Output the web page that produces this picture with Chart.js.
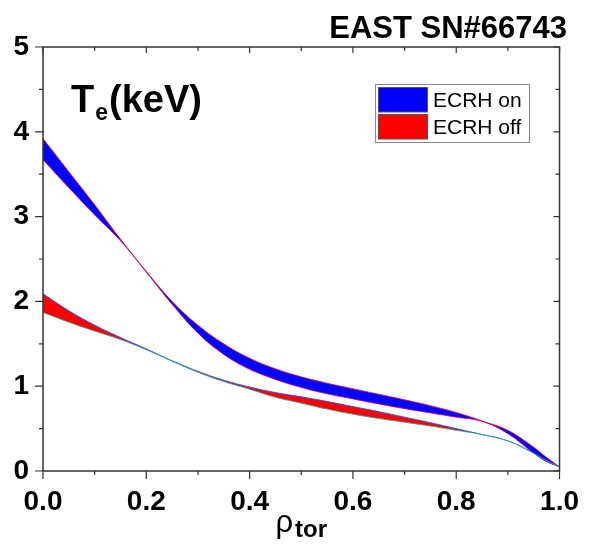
<!DOCTYPE html>
<html>
<head>
<meta charset="utf-8">
<title>Te profile</title>
<script src="https://cdn.jsdelivr.net/npm/chart.js@4.4.0/dist/chart.umd.min.js"></script>
<style>
  html, body { margin: 0; padding: 0; background: #fff; }
</style>
</head>
<body>
<canvas id="teChart" width="593" height="548"></canvas>
<script>
// radial coordinate and the upper / lower edges of each Te band (keV)
const rho    = [0, 0.05, 0.1, 0.15, 0.2, 0.25, 0.3, 0.35, 0.4, 0.45, 0.5, 0.55, 0.6, 0.65, 0.7, 0.75, 0.8, 0.85, 0.9, 0.95, 0.975, 1.0];
const onHi   = [3.92, 3.53, 3.14, 2.735, 2.355, 2.00, 1.72, 1.50, 1.33, 1.205, 1.11, 1.035, 0.97, 0.905, 0.84, 0.77, 0.69, 0.59, 0.48, 0.28, 0.16, 0.05];
const onLo   = [3.67, 3.34, 3.02, 2.715, 2.345, 1.965, 1.625, 1.375, 1.20, 1.08, 0.985, 0.91, 0.85, 0.79, 0.735, 0.685, 0.635, 0.585, 0.44, 0.21, 0.11, 0.05];
const offHi  = [2.09, 1.89, 1.72, 1.575, 1.44, 1.30, 1.175, 1.07, 0.99, 0.925, 0.875, 0.82, 0.76, 0.70, 0.635, 0.57, 0.50, 0.43, 0.355, 0.21, 0.12, 0.05];
const offLo  = [1.87, 1.755, 1.65, 1.55, 1.43, 1.295, 1.165, 1.055, 0.965, 0.87, 0.80, 0.73, 0.67, 0.62, 0.575, 0.53, 0.48, 0.43, 0.355, 0.21, 0.12, 0.05];

const legendLabels = ["ECRH on", "ECRH off"];
const xTickValues = [0, 0.2, 0.4, 0.6, 0.8, 1.0];
const yTickValues = [0, 1, 2, 3, 4, 5];

const FONT = '"Liberation Sans", Arial, sans-serif';

function pts(ys) {
  return rho.map((r, i) => ({ x: r, y: ys[i] }));
}

// frame, inner/outer ticks, labels and legend box
const decorations = {
  id: "decorations",
  afterDraw(chart) {
    const ctx = chart.ctx;
    const a = chart.chartArea;
    const x = chart.scales.x;
    const y = chart.scales.y;
    ctx.save();

    ctx.strokeStyle = "#333";
    ctx.lineWidth = 1.5;
    ctx.strokeRect(a.left, a.top, a.right - a.left, a.bottom - a.top);

    ctx.lineWidth = 1.2;
    ctx.beginPath();
    for (let i = 0; i <= 10; i++) {
      const px = x.getPixelForValue(i / 10);
      const major = i % 2 === 0;
      ctx.moveTo(px, a.bottom);
      ctx.lineTo(px, a.bottom + (major ? 8 : 4));
      ctx.moveTo(px, a.top);
      ctx.lineTo(px, a.top + (major ? 6 : 4));
    }
    for (let i = 0; i <= 10; i++) {
      const py = y.getPixelForValue(i / 2);
      const major = i % 2 === 0;
      ctx.moveTo(a.left, py);
      ctx.lineTo(a.left - (major ? 8 : 4), py);
      ctx.moveTo(a.right, py);
      ctx.lineTo(a.right - (major ? 6 : 4), py);
    }
    ctx.stroke();

    ctx.fillStyle = "#000";
    ctx.textBaseline = "alphabetic";

    // shot label
    ctx.font = "bold 31px " + FONT;
    ctx.textAlign = "right";
    ctx.fillText("EAST SN#66743", 567, 38);

    // Te(keV)
    ctx.textAlign = "left";
    let tx = 71;
    ctx.font = "bold 38px " + FONT;
    ctx.fillText("T", tx, 112);
    tx += ctx.measureText("T").width + 1;
    ctx.font = "bold 23px " + FONT;
    ctx.fillText("e", tx, 120);
    tx += ctx.measureText("e").width + 1;
    ctx.font = "bold 38px " + FONT;
    ctx.fillText("(keV)", tx, 112);

    // x axis title rho_tor
    ctx.font = "31px " + FONT;
    const wr = ctx.measureText("\u03c1").width;
    ctx.font = "bold 24px " + FONT;
    const wt = ctx.measureText("tor").width;
    let cx = (a.left + a.right) / 2 - (wr + 2 + wt) / 2;
    ctx.font = "31px " + FONT;
    ctx.fillText("\u03c1", cx, 532);
    ctx.font = "bold 24px " + FONT;
    ctx.fillText("tor", cx + wr + 2, 537);

    // legend
    const lx = 375.5, ly = 84.5, lw = 154, lh = 58;
    ctx.fillStyle = "#fff";
    ctx.fillRect(lx, ly, lw, lh);
    ctx.strokeStyle = "#888";
    ctx.lineWidth = 1;
    ctx.strokeRect(lx, ly, lw, lh);
    const fills = [chart.data.datasets[0].backgroundColor, chart.data.datasets[2].backgroundColor];
    ctx.font = "21px " + FONT;
    legendLabels.forEach((lab, i) => {
      const sy = 87.5 + i * 27;
      ctx.fillStyle = fills[i];
      ctx.fillRect(378.5, sy, 49, 24.5);
      ctx.strokeStyle = "#555";
      ctx.strokeRect(378.5, sy, 49, 24.5);
      ctx.fillStyle = "#000";
      ctx.fillText(lab, 433, 107 + i * 27);
    });

    ctx.restore();
  }
};

new Chart(document.getElementById("teChart"), {
  type: "line",
  data: {
    datasets: [
      { label: legendLabels[0], data: pts(onHi), borderColor: "rgba(230,0,90,0.8)", backgroundColor: "#0000ff", fill: "+1", order: 3 },
      { label: legendLabels[0] + " lower", data: pts(onLo), borderColor: "rgba(230,0,90,0.8)", fill: false, order: 2 },
      { label: legendLabels[1], data: pts(offHi), borderColor: "rgba(40,80,255,0.9)", backgroundColor: "#ff0000", fill: "+1", order: 1 },
      { label: legendLabels[1] + " lower", data: pts(offLo), borderColor: "rgba(40,170,150,0.9)", fill: false, order: 0 }
    ]
  },
  options: {
    responsive: false,
    animation: false,
    devicePixelRatio: 1,
    layout: { padding: { top: 47, right: 18, left: 0, bottom: 0 } },
    elements: {
      point: { radius: 0 },
      line: { borderWidth: 1, tension: 0.4 }
    },
    plugins: {
      legend: { display: false },
      tooltip: { enabled: false }
    },
    scales: {
      x: {
        type: "linear",
        min: 0,
        max: 1,
        afterBuildTicks: (s) => { s.ticks = xTickValues.map(v => ({ value: v })); },
        afterFit: (s) => { s.height = 77; },
        grid: { display: false, drawTicks: false },
        border: { display: false },
        ticks: {
          color: "#000",
          padding: 14,
          maxRotation: 0,
          font: { family: FONT, size: 28, weight: "bold" },
          callback: (v) => Number(v).toFixed(1)
        }
      },
      y: {
        min: 0,
        max: 5,
        afterBuildTicks: (s) => { s.ticks = yTickValues.map(v => ({ value: v })); },
        afterFit: (s) => { s.width = 43; },
        grid: { display: false, drawTicks: false },
        border: { display: false },
        ticks: {
          color: "#000",
          padding: 14,
          font: { family: FONT, size: 28, weight: "bold" },
          callback: (v) => String(v)
        }
      }
    }
  },
  plugins: [decorations]
});
</script>
</body>
</html>
